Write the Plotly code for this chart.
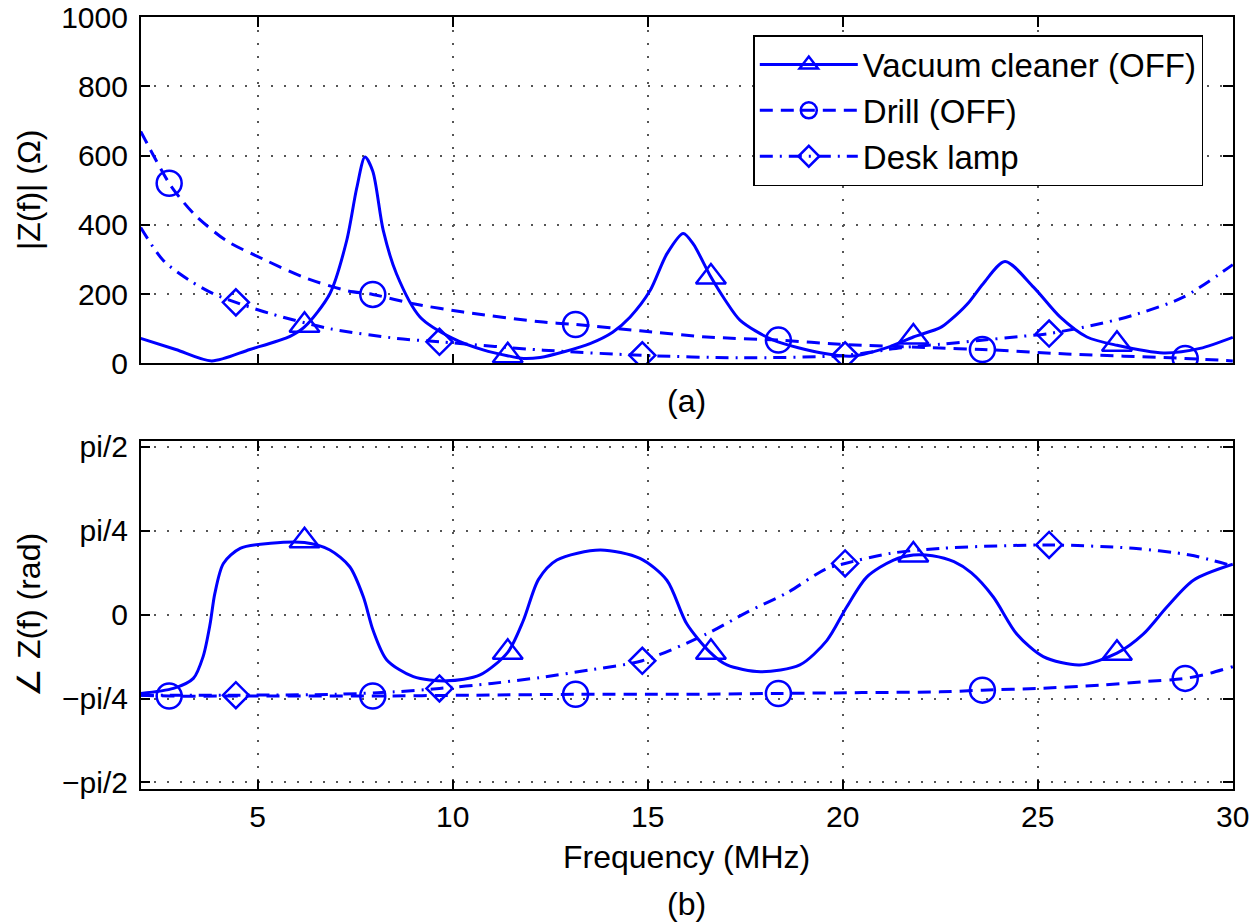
import math
import plotly.graph_objects as go

# ---------------- data ----------------
# (a) |Z(f)| in Ohm
vac_mag_x = [2.0, 2.9, 3.82, 4.8, 5.83, 6.2, 6.85, 7.28, 7.54, 7.75, 7.95, 8.22, 8.56, 9.16, 10.0,
             10.8, 11.4, 11.81, 12.24, 12.9, 13.52, 14.1, 14.55, 15.06, 15.49, 15.91, 16.17, 16.62,
             17.0, 17.37, 18.22, 19.5, 20.27, 21.21, 21.81, 22.5, 22.75, 23.2, 23.6, 24.16, 24.89,
             25.57, 26.26, 27.03, 28.22, 29.16, 30.0]
vac_mag_y = [72, 40, 7, 40, 78, 105, 201, 354, 507, 596, 555, 383, 258, 134, 72,
             38, 22, 14, 17, 35, 57, 90, 134, 210, 316, 375, 344, 249,
             180, 124, 67, 29, 21, 48, 76, 103, 124, 172, 230, 294, 220,
             134, 76, 52, 30, 43, 75]
vac_mag_mx = [6.2, 11.41, 16.62, 21.81, 27.03]
vac_mag_my = [110, 22, 249, 76, 55]

drill_mag_x = [2.0, 2.73, 3.1, 3.44, 4.2, 5.14, 6.17, 7.28, 7.95, 8.99, 10.27, 12.32, 13.15, 14.8,
               16.51, 18.35, 19.93, 22.5, 23.58, 25.74, 28.78, 30.0]
drill_mag_y = [670, 520, 465, 423, 354, 301, 249, 210, 199, 172, 148, 119, 112, 94,
               76, 67, 55, 44, 40, 27, 14, 7]
drill_mag_mx = [2.73, 7.95, 13.15, 18.35, 23.58, 28.78]
drill_mag_my = [520, 199, 112, 67, 40, 14]

lamp_mag_x = [2.0, 2.58, 3.26, 3.86, 4.44, 5.31, 6.85, 8.56, 9.66, 12.32, 14.86, 17.37, 20.06,
              21.5, 22.5, 23.5, 24.5, 25.29, 26.5, 27.45, 28.73, 30.0]
lamp_mag_y = [392, 297, 239, 201, 176, 144, 100, 72, 62, 38, 23, 16, 23,
              45, 55, 66, 77, 86, 112, 139, 191, 285]
lamp_mag_mx = [4.44, 9.66, 14.86, 20.06, 25.29]
lamp_mag_my = [176, 62, 23, 23, 86]

# (b) phase in rad
vac_ph_x = [2.0, 2.84, 3.35, 3.6, 3.78, 3.9, 4.12, 4.55, 5.33, 6.2, 6.85, 7.36, 7.71, 7.96, 8.31,
            8.99, 9.85, 10.7, 11.41, 11.81, 12.2, 12.67, 13.78, 14.8, 15.49, 16.0, 16.6, 17.03,
            17.89, 18.9, 19.59, 20.1, 20.62, 21.3, 21.81, 22.3, 22.85, 23.3, 23.86, 24.46, 25.14,
            26.08, 27.03, 27.71, 28.31, 28.99, 30.0]
vac_ph_y = [-0.738, -0.691, -0.597, -0.393, -0.086, 0.196, 0.479, 0.620, 0.668, 0.675, 0.605,
            0.448, 0.165, -0.149, -0.424, -0.581, -0.620, -0.565, -0.353, -0.055, 0.330, 0.511,
            0.605, 0.526, 0.322, -0.086, -0.353, -0.471, -0.534, -0.471, -0.243, 0.071, 0.353,
            0.511, 0.558, 0.550, 0.495, 0.390, 0.165, -0.181, -0.393,
            -0.471, -0.361, -0.181, 0.071, 0.322, 0.471]
vac_ph_mx = [6.2, 11.41, 16.62, 21.81, 27.03]
vac_ph_my = [0.691, -0.353, -0.353, 0.558, -0.361]

drill_ph_x = [2.0, 2.73, 5.0, 7.95, 10.5, 13.15, 15.8, 18.35, 20.5, 22.5, 23.58, 25.0, 26.6,
              27.7, 28.78, 29.4, 30.0]
drill_ph_y = [-0.754, -0.762, -0.762, -0.762, -0.754, -0.746, -0.746, -0.738, -0.730, -0.723,
              -0.707, -0.691, -0.660, -0.628, -0.597, -0.550, -0.487]
drill_ph_mx = [2.73, 7.95, 13.15, 18.35, 23.58, 28.78]
drill_ph_my = [-0.762, -0.762, -0.746, -0.738, -0.707, -0.597]

lamp_ph_x = [2.0, 4.44, 7.0, 8.5, 9.66, 11.0, 12.24, 13.5, 14.86, 16.51, 17.55, 18.57, 19.55,
             20.06, 21.21, 22.5, 25.29, 27.45, 28.9, 30.0]
lamp_ph_y = [-0.754, -0.754, -0.746, -0.723, -0.691, -0.644, -0.589, -0.518, -0.432, -0.181,
             0.024, 0.204, 0.424, 0.479, 0.573, 0.620, 0.652, 0.620, 0.558, 0.456]
lamp_ph_mx = [4.44, 9.66, 14.86, 20.06, 25.29]
lamp_ph_my = [-0.754, -0.691, -0.432, 0.479, 0.652]

names = ["Vacuum cleaner (OFF)", "Drill (OFF)", "Desk lamp"]
mag_ticks = [0, 200, 400, 600, 800, 1000]
ph_tickvals = [-math.pi / 2, -math.pi / 4, 0, math.pi / 4, math.pi / 2]
ph_ticktext = ["\u2212pi/2", "\u2212pi/4", "0", "pi/4", "pi/2"]
freq_ticks = [5, 10, 15, 20, 25, 30]

# ---------------- style ----------------
BLUE = "#0000FF"
FONT = "Liberation Sans, Arial, Helvetica, sans-serif"
LW = 3
dashes = ["solid", "13px,8px", "13px,7px,2px,7px"]
symbols = ["triangle-up-open", "circle-open", "diamond-open"]
msizes = [26, 25, 20]

W, H = 1250, 922
xl, xr = 140.7, 1233.0
top_t, top_b = 17.0, 363.3
bot_t, bot_b = 441.0, 789.3

fig = go.Figure()

series_top = [(vac_mag_x, vac_mag_y, vac_mag_mx, vac_mag_my),
              (drill_mag_x, drill_mag_y, drill_mag_mx, drill_mag_my),
              (lamp_mag_x, lamp_mag_y, lamp_mag_mx, lamp_mag_my)]
series_bot = [(vac_ph_x, vac_ph_y, vac_ph_mx, vac_ph_my),
              (drill_ph_x, drill_ph_y, drill_ph_mx, drill_ph_my),
              (lamp_ph_x, lamp_ph_y, lamp_ph_mx, lamp_ph_my)]

for axes, series in (("x", "y"), series_top), (("x2", "y2"), series_bot):
    for i, (lx, ly, mx, my) in enumerate(series):
        fig.add_trace(go.Scatter(x=lx, y=ly, xaxis=axes[0], yaxis=axes[1], mode="lines",
                                 line=dict(color=BLUE, width=LW, dash=dashes[i],
                                           shape="spline", smoothing=0.8),
                                 showlegend=False, hoverinfo="skip"))
        fig.add_trace(go.Scatter(x=mx, y=my, xaxis=axes[0], yaxis=axes[1], mode="markers",
                                 marker=dict(symbol=symbols[i], size=msizes[i], color=BLUE,
                                             line=dict(color=BLUE, width=2.5)),
                                 showlegend=False, hoverinfo="skip"))

for i, nm in enumerate(names):
    fig.add_trace(go.Scatter(x=[None], y=[None], xaxis="x", yaxis="y", mode="lines+markers",
                             name=nm,
                             line=dict(color=BLUE, width=LW, dash=dashes[i]),
                             marker=dict(symbol=symbols[i], size=msizes[i], color=BLUE,
                                         line=dict(color=BLUE, width=2.5))))

axis_common = dict(showline=True, linecolor="black", linewidth=1.5, mirror="ticks",
                   ticks="inside", ticklen=10, tickwidth=1.5, tickcolor="black",
                   showgrid=True, gridcolor="#555555", gridwidth=1.5, griddash="2px,11px",
                   zeroline=False, automargin=False, ticklabeloverflow="allow",
                   tickfont=dict(family=FONT, size=30, color="black"))

fig.update_layout(
    width=W, height=H,
    margin=dict(l=0, r=0, t=0, b=0),
    paper_bgcolor="white", plot_bgcolor="white",
    font=dict(family=FONT, size=30, color="black"),
    xaxis=dict(domain=[xl / W, xr / W], range=[2, 30.005], tickvals=freq_ticks,
               showticklabels=False, anchor="y", **axis_common),
    yaxis=dict(domain=[1 - top_b / H, 1 - top_t / H], range=[0, 1000.3], tickvals=mag_ticks,
               anchor="x", ticklabelstandoff=5, **axis_common),
    xaxis2=dict(domain=[xl / W, xr / W], range=[2, 30.005], tickvals=freq_ticks,
                anchor="y2", ticklabelstandoff=0, **axis_common),
    yaxis2=dict(domain=[1 - bot_b / H, 1 - bot_t / H], range=[-1.635, 1.625],
                tickvals=ph_tickvals, ticktext=ph_ticktext, anchor="x2",
                ticklabelstandoff=5, **axis_common),
    legend=dict(x=753.3 / W, y=1 - 35 / H, xanchor="left", yanchor="top",
                bgcolor="white", bordercolor="black", borderwidth=1.5,
                font=dict(family=FONT, size=33, color="black"),
                itemwidth=98, tracegroupgap=0),
    showlegend=True,
)

ann_font = dict(family=FONT, size=32, color="black")
cx = (xl + xr) / 2 / W
fig.add_annotation(text="(a)", x=cx, y=1 - 401 / H, xref="paper", yref="paper",
                   showarrow=False, font=ann_font, xanchor="center", yanchor="middle")
fig.add_annotation(text="Frequency (MHz)", x=cx, y=1 - 857 / H, xref="paper", yref="paper",
                   showarrow=False, font=ann_font, xanchor="center", yanchor="middle")
fig.add_annotation(text="(b)", x=cx, y=1 - 904 / H, xref="paper", yref="paper",
                   showarrow=False, font=ann_font, xanchor="center", yanchor="middle")
fig.add_annotation(text="|Z(f)| (\u03a9)", x=29 / W, y=1 - 190 / H, xref="paper", yref="paper",
                   showarrow=False, font=ann_font, textangle=-90,
                   xanchor="center", yanchor="middle")
fig.add_annotation(text="\u2220 Z(f) (rad)", x=29 / W, y=1 - 615 / H, xref="paper", yref="paper",
                   showarrow=False, font=ann_font, textangle=-90,
                   xanchor="center", yanchor="middle")

fig.write_html("out.html")
